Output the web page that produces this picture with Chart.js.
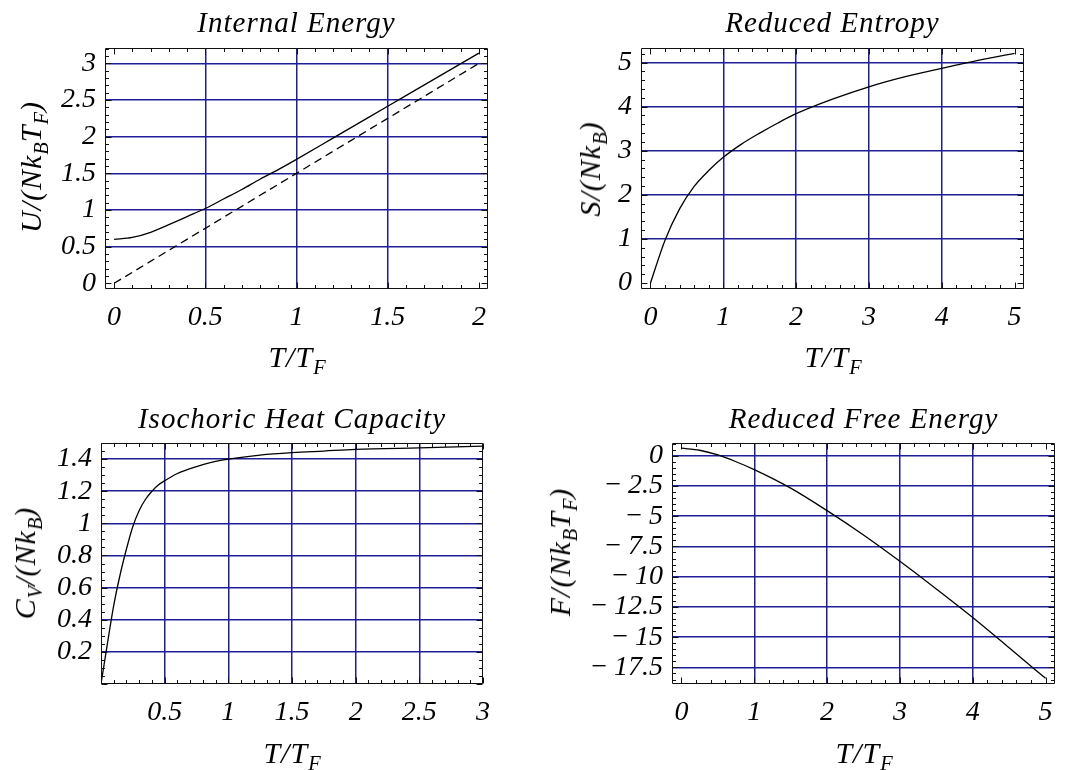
<!DOCTYPE html>
<html>
<head>
<meta charset="utf-8">
<script src="https://cdn.jsdelivr.net/npm/chart.js@4.4.1/dist/chart.umd.min.js"></script>
<style>
  html, body { margin:0; padding:0; background:#fff; }
  body { width:1068px; height:770px; position:relative; overflow:hidden; }
  canvas { position:absolute; }
  .lab { position:absolute; font-family:"Liberation Serif","DejaVu Serif",serif; font-style:italic; font-size:30px; line-height:30px; letter-spacing:1px; white-space:nowrap; color:#000; }
  .lab sub { font-size:0.68em; vertical-align:-0.32em; line-height:0; letter-spacing:0; }
  .t { font-size:29px; line-height:29px; }
  .ttl { transform:translateX(-50%); }
  .yl { transform:translate(-50%,-50%) rotate(-90deg); }
</style>
</head>
<body>
<canvas id="c1" width="534" height="385" style="left:0;top:0"></canvas>
<canvas id="c2" width="534" height="385" style="left:534px;top:0"></canvas>
<canvas id="c3" width="534" height="385" style="left:0;top:385px"></canvas>
<canvas id="c4" width="534" height="385" style="left:534px;top:385px"></canvas>

<div class="lab t ttl" style="left:296.5px;top:7.5px">Internal Energy</div>
<div class="lab t ttl" style="left:832.5px;top:7.5px">Reduced Entropy</div>
<div class="lab t ttl" style="left:292px;top:403.5px">Isochoric Heat Capacity</div>
<div class="lab t ttl" style="left:863.5px;top:403.5px">Reduced Free Energy</div>

<div class="lab ttl" style="left:297px;top:342px">T/T<sub>F</sub></div>
<div class="lab ttl" style="left:833px;top:342px">T/T<sub>F</sub></div>
<div class="lab ttl" style="left:292px;top:738px">T/T<sub>F</sub></div>
<div class="lab ttl" style="left:864px;top:738px">T/T<sub>F</sub></div>

<div class="lab yl" style="left:31px;top:167px">U/(Nk<sub>B</sub>T<sub>F</sub>)</div>
<div class="lab yl" style="left:590px;top:169px">S/(Nk<sub>B</sub>)</div>
<div class="lab yl" style="left:25px;top:563px">C<sub>V</sub>/(Nk<sub>B</sub>)</div>
<div class="lab yl" style="left:560px;top:552px">F/(Nk<sub>B</sub>T<sub>F</sub>)</div>

<script>
// ---------------- DATA ----------------
// Internal energy U/(N kB TF) vs T/TF
const tU       = [0, 0.1, 0.2, 0.3, 0.4, 0.5, 0.6, 0.7, 0.8, 0.9, 1.0, 1.2, 1.4, 1.6, 1.8, 2.0];
const uFermi   = [0.60, 0.625, 0.695, 0.80, 0.91, 1.02, 1.15, 1.28, 1.42, 1.55, 1.69, 1.98, 2.27, 2.56, 2.85, 3.14];
const tClassic = [0, 2];
const uClassic = [0, 3];
const xTicksU  = [0, 0.5, 1, 1.5, 2];
const xLabelsU = ["0", "0.5", "1", "1.5", "2"];
const yTicksU  = [0, 0.5, 1, 1.5, 2, 2.5, 3];
const yLabelsU = ["0", "0.5", "1", "1.5", "2", "2.5", "3"];
const xGridU   = [0.5, 1, 1.5];
const yGridU   = [0.5, 1, 1.5, 2, 2.5, 3];

// Reduced entropy S/(N kB)
const tS       = [0, 0.2, 0.4, 0.6, 0.8, 1.0, 1.25, 1.5, 1.75, 2.0, 2.5, 3.0, 3.5, 4.0, 4.5, 5.0];
const sVals    = [0, 0.97, 1.68, 2.19, 2.55, 2.85, 3.15, 3.40, 3.63, 3.84, 4.17, 4.45, 4.68, 4.87, 5.05, 5.21];
const xTicksS  = [0, 1, 2, 3, 4, 5];
const xLabelsS = ["0", "1", "2", "3", "4", "5"];
const yTicksS  = [0, 1, 2, 3, 4, 5];
const yLabelsS = ["0", "1", "2", "3", "4", "5"];
const xGridS   = [1, 2, 3, 4];
const yGridS   = [1, 2, 3, 4, 5];

// Isochoric heat capacity Cv/(N kB)
const tC       = [0, 0.05, 0.1, 0.15, 0.2, 0.25, 0.3, 0.35, 0.4, 0.45, 0.5, 0.6, 0.7, 0.8, 0.9, 1.0, 1.25, 1.5, 1.75, 2.0, 2.5, 3.0];
const cVals    = [0, 0.25, 0.49, 0.68, 0.84, 0.98, 1.08, 1.15, 1.20, 1.238, 1.265, 1.31, 1.34, 1.365, 1.385, 1.40, 1.425, 1.44, 1.45, 1.46, 1.47, 1.48];
const xTicksC  = [0.5, 1, 1.5, 2, 2.5, 3];
const xLabelsC = ["0.5", "1", "1.5", "2", "2.5", "3"];
const yTicksC  = [0.2, 0.4, 0.6, 0.8, 1, 1.2, 1.4];
const yLabelsC = ["0.2", "0.4", "0.6", "0.8", "1", "1.2", "1.4"];
const xGridC   = [0.5, 1, 1.5, 2, 2.5];
const yGridC   = [0.2, 0.4, 0.6, 0.8, 1, 1.2, 1.4];

// Reduced free energy F/(N kB TF)
const tF       = [0, 0.25, 0.5, 0.75, 1, 1.5, 2, 2.5, 3, 3.5, 4, 4.5, 5];
const fVals    = [0.62, 0.45, 0.06, -0.50, -1.15, -2.68, -4.54, -6.55, -8.73, -11.02, -13.38, -15.88, -18.40];
const xTicksF  = [0, 1, 2, 3, 4, 5];
const xLabelsF = ["0", "1", "2", "3", "4", "5"];
const yTicksF  = [0, -2.5, -5, -7.5, -10, -12.5, -15, -17.5];
const yLabelsF = ["0", "\u2212\u20092.5", "\u2212\u20095", "\u2212\u20097.5", "\u2212\u200910", "\u2212\u200912.5", "\u2212\u200915", "\u2212\u200917.5"];
const xGridF   = [1, 2, 3, 4];
const yGridF   = [0, -2.5, -5, -7.5, -10, -12.5, -15, -17.5];

// ---------------- DRAWING ----------------
const W = 534, H = 385;
const GRID = 'rgb(30,30,150)';
const FONT = { family: '"Liberation Serif", "DejaVu Serif", serif', style: 'italic', size: 28, lineHeight: 1.2 };

function pts(xs, ys) { return xs.map((x, i) => ({ x: x, y: ys[i] })); }

function framePlugin(xMajor, xMinor, yMajor, yMinor) {
  return {
    id: 'frame',
    afterDraw(chart) {
      const { ctx, chartArea: a, scales: { x, y } } = chart;
      ctx.save();
      ctx.strokeStyle = '#111';
      ctx.lineWidth = 1;
      ctx.beginPath();
      const L = Math.round(a.left) + 0.5, R = Math.round(a.right) - 0.5;
      const T = Math.round(a.top) + 0.5, B = Math.round(a.bottom) - 0.5;
      ctx.rect(L, T, R - L, B - T);
      ctx.stroke();
      ctx.beginPath();
      const isMajor = (v, step) => Math.abs(v / step - Math.round(v / step)) < 1e-6;
      for (let k = Math.ceil(x.min / xMinor - 1e-9); k * xMinor <= x.max + 1e-9; k++) {
        const v = k * xMinor;
        const px = Math.round(x.getPixelForValue(v)) + 0.5;
        const len = isMajor(v, xMajor) ? 6 : 3.5;
        ctx.moveTo(px, B); ctx.lineTo(px, B - len);
        ctx.moveTo(px, T); ctx.lineTo(px, T + len);
      }
      for (let k = Math.ceil(y.min / yMinor - 1e-9); k * yMinor <= y.max + 1e-9; k++) {
        const v = k * yMinor;
        const py = Math.round(y.getPixelForValue(v)) + 0.5;
        const len = isMajor(v, yMajor) ? 6 : 3.5;
        ctx.moveTo(L, py); ctx.lineTo(L + len, py);
        ctx.moveTo(R, py); ctx.lineTo(R - len, py);
      }
      ctx.stroke();
      ctx.restore();
    }
  };
}

function makeChart(id, c) {
  const lineDs = (data, dash) => ({
    data: data, showLine: true, borderColor: '#000', borderWidth: 1.3,
    pointRadius: 0, borderDash: dash || [], cubicInterpolationMode: 'monotone', fill: false
  });
  return new Chart(document.getElementById(id), {
    type: 'scatter',
    data: { datasets: c.series.map(s => lineDs(s.data, s.dash)) },
    options: {
      responsive: false, animation: false, devicePixelRatio: 1,
      events: [],
      layout: { padding: { left: 0, top: c.area.t, right: W - c.area.r, bottom: 0 } },
      plugins: { legend: { display: false }, tooltip: { enabled: false }, title: { display: false } },
      scales: {
        x: {
          type: 'linear', position: 'bottom', min: c.xMin, max: c.xMax,
          afterBuildTicks: s => { s.ticks = c.xTicks.map(v => ({ value: v })); },
          afterFit: s => { s.height = H - c.area.b; s.paddingLeft = 0; s.paddingRight = 0; },
          ticks: { autoSkip: false, maxRotation: 0, minRotation: 0, padding: 12, color: '#000', font: FONT,
                   callback: (v, i) => c.xLabels[i] },
          grid: { color: g => (g.tick && c.xGrid.includes(g.tick.value)) ? GRID : 'rgba(0,0,0,0)', drawTicks: false, lineWidth: 1.5 },
          border: { display: false }
        },
        y: {
          type: 'linear', position: 'left', min: c.yMin, max: c.yMax,
          afterBuildTicks: s => { s.ticks = c.yTicks.map(v => ({ value: v })); },
          afterFit: s => { s.width = c.area.l; s.paddingTop = 0; s.paddingBottom = 0; },
          ticks: { autoSkip: false, padding: 9, color: '#000', font: FONT,
                   callback: (v, i) => c.yLabels[i] },
          grid: { color: g => (g.tick && c.yGrid.includes(g.tick.value)) ? GRID : 'rgba(0,0,0,0)', drawTicks: false, lineWidth: 1.5 },
          border: { display: false }
        }
      }
    },
    plugins: [framePlugin(c.xMajor, c.xMinor, c.yMajor, c.yMinor)]
  });
}

makeChart('c1', {
  area: { l: 105, t: 48, r: 488, b: 289 },
  xMin: -0.05, xMax: 2.05, yMin: -0.078, yMax: 3.21,
  xTicks: xTicksU, xLabels: xLabelsU, yTicks: yTicksU, yLabels: yLabelsU,
  xGrid: xGridU, yGrid: yGridU,
  xMajor: 0.5, xMinor: 0.1, yMajor: 0.5, yMinor: 0.1,
  series: [{ data: pts(tU, uFermi) }, { data: pts(tClassic, uClassic), dash: [8, 5] }]
});

makeChart('c2', {
  area: { l: 107, t: 48, r: 490, b: 289 },
  xMin: -0.13, xMax: 5.13, yMin: -0.136, yMax: 5.33,
  xTicks: xTicksS, xLabels: xLabelsS, yTicks: yTicksS, yLabels: yLabelsS,
  xGrid: xGridS, yGrid: yGridS,
  xMajor: 1, xMinor: 0.2, yMajor: 1, yMinor: 0.2,
  series: [{ data: pts(tS, sVals) }]
});

makeChart('c3', {
  area: { l: 101, t: 58, r: 483, b: 299 },
  xMin: 0, xMax: 3, yMin: 0, yMax: 1.5,
  xTicks: xTicksC, xLabels: xLabelsC, yTicks: yTicksC, yLabels: yLabelsC,
  xGrid: xGridC, yGrid: yGridC,
  xMajor: 0.5, xMinor: 0.1, yMajor: 0.2, yMinor: 0.05,
  series: [{ data: pts(tC, cVals) }]
});

makeChart('c4', {
  area: { l: 138, t: 58, r: 521, b: 299 },
  xMin: -0.13, xMax: 5.13, yMin: -18.87, yMax: 1.05,
  xTicks: xTicksF, xLabels: xLabelsF, yTicks: yTicksF, yLabels: yLabelsF,
  xGrid: xGridF, yGrid: yGridF,
  xMajor: 1, xMinor: 0.2, yMajor: 2.5, yMinor: 0.5,
  series: [{ data: pts(tF, fVals) }]
});
</script>
</body>
</html>
